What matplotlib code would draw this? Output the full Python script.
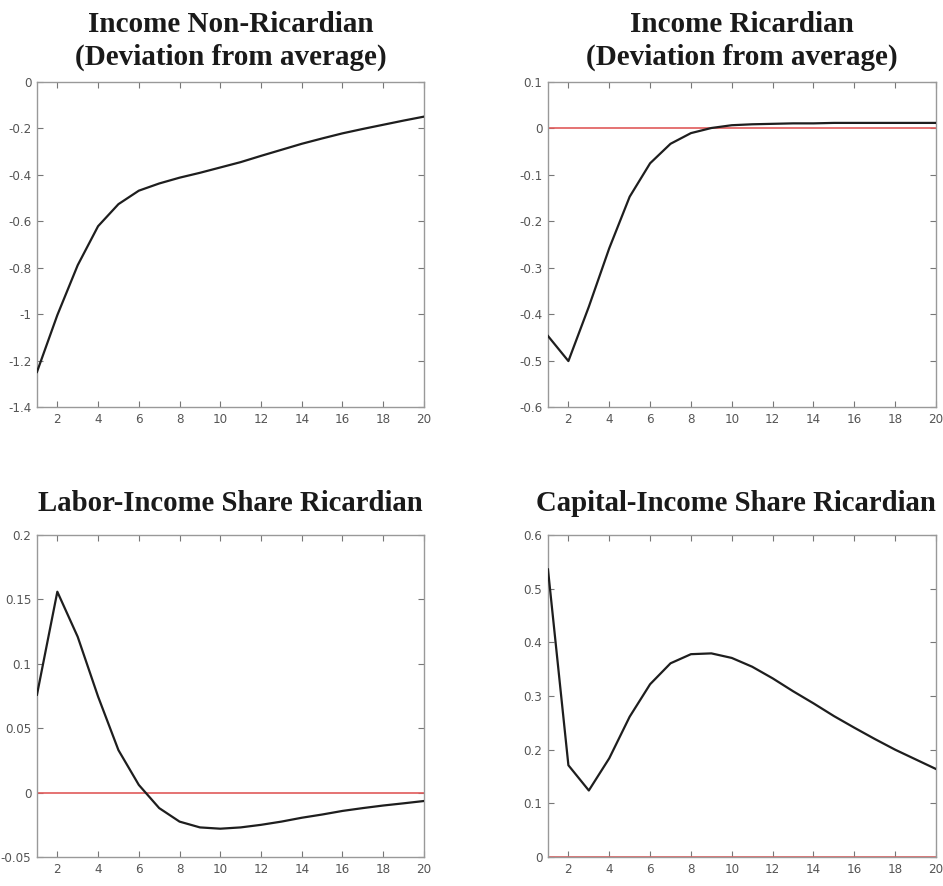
import numpy as np
import matplotlib
matplotlib.use('Agg')
import matplotlib.pyplot as plt
from matplotlib.ticker import FuncFormatter

# periods
periods = list(range(1, 21))

# Income Non-Ricardian (deviation from average)
income_nonric = [-1.249, -1.004, -0.789, -0.621, -0.526, -0.468, -0.437, -0.412, -0.391, -0.368,
                 -0.345, -0.318, -0.292, -0.266, -0.243, -0.221, -0.202, -0.184, -0.166, -0.149]

# Income Ricardian (deviation from average)
income_ric = [-0.447, -0.501, -0.384, -0.258, -0.147, -0.075, -0.033, -0.010, 0.001, 0.007,
              0.009, 0.010, 0.011, 0.011, 0.012, 0.012, 0.012, 0.012, 0.012, 0.012]

# Labor-Income share Ricardian
labor_share = [0.076, 0.156, 0.121, 0.0746, 0.033, 0.006, -0.012, -0.0225, -0.027, -0.028,
               -0.027, -0.025, -0.0225, -0.0195, -0.017, -0.0142, -0.012, -0.010, -0.0083, -0.0065]

# Capital-Income share Ricardian
capital_share = [0.536, 0.171, 0.124, 0.184, 0.2615, 0.322, 0.361, 0.378, 0.3795, 0.371,
                 0.3546, 0.333, 0.309, 0.2864, 0.2627, 0.241, 0.220, 0.200, 0.182, 0.164]

titles = ['Income Non-Ricardian\n(Deviation from average)',
          'Income Ricardian\n(Deviation from average)',
          'Labor-Income Share Ricardian',
          'Capital-Income Share Ricardian']
series = [income_nonric, income_ric, labor_share, capital_share]
ylims = [(-1.4, 0), (-0.6, 0.1), (-0.05, 0.2), (0, 0.6)]
ysteps = [0.2, 0.1, 0.05, 0.1]
xticks = list(range(2, 21, 2))

# axes boxes in figure fraction [left, bottom, width, height]
boxes = [[0.0392, 0.5406, 0.4104, 0.3668],
         [0.5811, 0.5406, 0.4115, 0.3668],
         [0.0392, 0.0327, 0.4104, 0.3634],
         [0.5811, 0.0327, 0.4115, 0.3634]]
title_y = [0.9195, 0.9195, 0.417, 0.417]
title_dx = [0, 0, 0, -0.006]


def tick_fmt(v, p):
    v = round(v, 6) + 0.0
    if v == 0:
        return '0'
    return f"{v:g}"


fig = plt.figure(figsize=(9.43, 8.86), dpi=100)

for i in range(4):
    ax = fig.add_axes(boxes[i])
    ax.axhline(0, color='#e05a5a', lw=1.2, zorder=2)
    ax.plot(periods, series[i], color='#1e1e1e', lw=1.6, zorder=3)
    ax.set_xlim(1, 20)
    lo, hi = ylims[i]
    ax.set_ylim(lo, hi)
    ax.set_xticks(xticks)
    ax.set_yticks(np.arange(lo, hi + ysteps[i] / 2, ysteps[i]))
    ax.yaxis.set_major_formatter(FuncFormatter(tick_fmt))
    ax.tick_params(direction='in', length=4, width=0.8, color='#777777',
                   top=True, right=True, labelsize=9.5, labelcolor='#555555', pad=4)
    for lab in ax.get_xticklabels() + ax.get_yticklabels():
        lab.set_family('DejaVu Sans')
        lab.set_fontstretch('condensed')
    for sp in ax.spines.values():
        sp.set_color('#999999')
        sp.set_linewidth(1.0)
    cx = boxes[i][0] + boxes[i][2] / 2 + title_dx[i]
    fig.text(cx, title_y[i], titles[i], ha='center', va='bottom',
             fontsize=21 if i < 2 else 20.7, fontweight='bold', family='Liberation Serif',
             color='#1a1a1a', linespacing=1.3)

fig.savefig('out.png', dpi=100)
